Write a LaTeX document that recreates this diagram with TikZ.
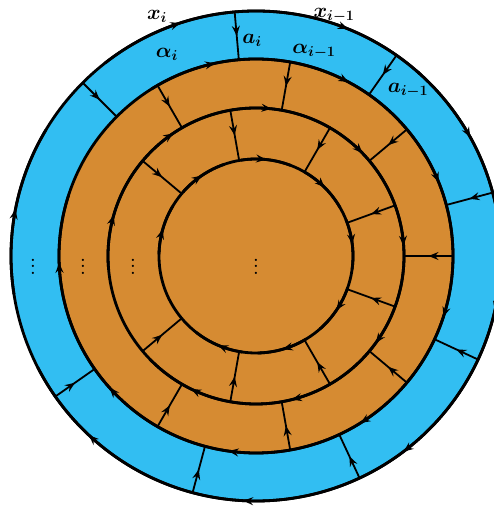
\documentclass[tikz,border=0pt]{standalone}
\usepackage{amsmath}
\usetikzlibrary{arrows.meta,decorations.markings}
\definecolor{bandblue}{RGB}{50,190,242}
\definecolor{bandorange}{RGB}{214,139,50}

\begin{document}
\begin{tikzpicture}[
  >={Stealth[length=10pt, width=8pt, inset=3.5pt]},
  every node/.style={font=\huge},
  circ/.style={draw=black, line width=2.8pt},
  spoke/.style={draw=black, line width=1.8pt},
  midtip/.style={postaction={decorate},
    decoration={markings, mark=at position 0.5 with {\arrow{>}}}},
  dotsnode/.style={font=\Large, inner sep=0pt, scale=1.6},
]
\useasboundingbox (-256pt,-254pt) rectangle (237pt,256pt);

% ---- bands ----
\fill[bandblue]   (0,0) circle[radius=245pt];
\fill[bandorange] (0,0) circle[radius=197pt];

% ---- spokes, all pointing inwards ----
\foreach \a in {135,95,...,-145}
  \draw[spoke, midtip] (\a:245pt) -- (\a:197pt);
\foreach \a in {120,80,...,-120}
  \draw[spoke, midtip] (\a:197pt) -- (\a:148pt);
\foreach \a in {140,100,...,-140}
  \draw[spoke, midtip] (\a:148pt) -- (\a:97pt);

% ---- circles ----
\foreach \r in {245,197,148,97}
  \draw[circ] (0,0) circle[radius=\r pt];

% ---- clockwise tips on the circles ----
\foreach \a in {108,68,29,-13,-53,-93,-133,169}
  \draw[circ, midtip] (\a+20:245pt) arc[start angle=\a+20, end angle=\a-20, radius=245pt];
\foreach \a in {102,62,...,-138,182}
  \draw[circ, midtip] (\a+20:197pt) arc[start angle=\a+20, end angle=\a-20, radius=197pt];
\foreach \a in {164,124,...,-116}
  \draw[circ, midtip] (\a+20:148pt) arc[start angle=\a+20, end angle=\a-20, radius=148pt];
\foreach \a in {164,124,84,45,7,-34,-74,-113}
  \draw[circ, midtip] (\a+15:97pt) arc[start angle=\a+15, end angle=\a-15, radius=97pt];

% ---- labels ----
\node (xi)     at (-99pt,240pt) {$\boldsymbol{x_i}$};
\node (alphai) at (-89pt,202pt) {$\boldsymbol{\alpha_i}$};
\node (ai)     at (-4pt,216pt)  {$\boldsymbol{a_i}$};
\node (xim)    at (78pt,241pt)  {$\boldsymbol{x_{i-1}}$};
\node (alphaim) at (58pt,205pt) {$\boldsymbol{\alpha_{i-1}}$};
\node (aim)    at (152pt,166pt) {$\boldsymbol{a_{i-1}}$};

% ---- dots ----
\node[dotsnode] (dotsa) at (-223pt,-6pt) {$\vdots$};
\node[dotsnode] (dotsb) at (-173pt,-6pt) {$\vdots$};
\node[dotsnode] (dotsc) at (-123pt,-6pt) {$\vdots$};
\node[dotsnode] (dotsd) at (0pt,-6pt)    {$\vdots$};

\end{tikzpicture}
\end{document}
